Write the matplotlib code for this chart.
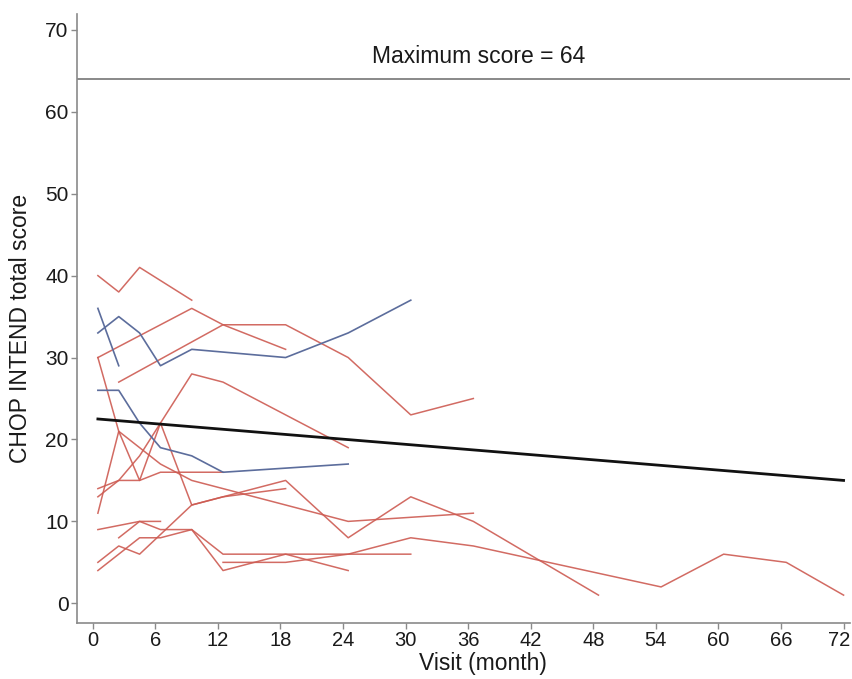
import numpy as np
import matplotlib.pyplot as plt
from matplotlib.transforms import ScaledTranslation

plt.rcParams['font.family'] = ['Liberation Sans', 'DejaVu Sans']

# Individual patient trajectories: visit month and CHOP INTEND total score
red_months = [
    [0.5, 2.5, 4.5, 9.5],
    [0.5, 9.5, 12.5, 18.5],
    [2.5, 12.5, 18.5, 24.5, 30.5, 36.5],
    [0.5, 2.5, 4.5, 6.5, 9.5, 12.5, 24.5],
    [0.5, 2.5, 4.5, 6.5, 9.5, 12.5, 24.5, 36.5],
    [0.5, 2.5, 4.5, 6.5, 9.5, 12.5, 18.5],
    [0.5, 2.5, 4.5, 6.5, 9.5, 12.5],
    [0.5, 2.5, 4.5, 9.5, 12.5, 18.5, 24.5, 30.5, 36.5, 48.5],
    [0.5, 4.5, 6.5, 9.5, 12.5, 18.5, 24.5],
    [12.5, 18.5, 24.5, 30.5, 36.5, 54.5, 60.5, 66.5, 72],
    [2.5, 4.5, 6.5, 9.5, 12.5, 18.5, 24.5, 30.5],
    [0.5, 4.5, 6.5],
]
red_scores = [
    [40, 38, 41, 37],
    [30, 36, 34, 31],
    [27, 34, 34, 30, 23, 25],
    [30, 21, 15, 22, 28, 27, 19],
    [11, 21, 19, 17, 15, 14, 10, 11],
    [14, 15, 18, 22, 12, 13, 14],
    [13, 15, 15, 16, 16, 16],
    [5, 7, 6, 12, 13, 15, 8, 13, 10, 1],
    [4, 8, 8, 9, 4, 6, 4],
    [5, 5, 6, 8, 7, 2, 6, 5, 1],
    [8, 10, 9, 9, 6, 6, 6, 6],
    [9, 10, 10],
]

blue_months = [
    [0.5, 2.5],
    [0.5, 2.5, 4.5, 6.5, 9.5, 18.5, 24.5, 30.5],
    [0.5, 2.5, 4.5, 6.5, 9.5, 12.5, 24.5],
]
blue_scores = [
    [36, 29],
    [33, 35, 33, 29, 31, 30, 33, 37],
    [26, 26, 22, 19, 18, 16, 17],
]

# Fitted trend across all visits
trend_months = [0.5, 72]
trend_scores = [22.5, 15.0]

max_score = 64
x_ticks = list(range(0, 73, 6))
y_ticks = list(range(0, 71, 10))

fig = plt.figure(figsize=(8.53, 6.79), dpi=100)
ax = fig.add_axes([0.0903, 0.0825, 0.906, 0.8965])

for m, s in zip(red_months, red_scores):
    ax.plot(m, s, color='#cd5b52', lw=1.1, alpha=0.9)
for m, s in zip(blue_months, blue_scores):
    ax.plot(m, s, color='#5c6d9c', lw=1.2)

ax.plot(trend_months, trend_scores, color='#111111', lw=2.0)

ax.axhline(max_score, color='#808080', lw=1.3)
ax.text(37, 66.8, 'Maximum score = 64', ha='center', va='center', fontsize=16.5, color='#1a1a1a')

ax.set_xlim(-1.5, 72.6)
ax.set_ylim(-2.4, 71.9)
ax.set_xticks(x_ticks)
ax.set_yticks(y_ticks)
ax.set_xlabel('Visit (month)', fontsize=16.5, color='#1a1a1a')
ax.set_ylabel('CHOP INTEND total score', fontsize=16.5, color='#1a1a1a')
ax.xaxis.set_label_coords(0.525, -0.048)
ax.yaxis.set_label_coords(-0.058, 0.484)

for side in ['top', 'right']:
    ax.spines[side].set_visible(False)
for side in ['left', 'bottom']:
    ax.spines[side].set_color('#8a8a8a')
    ax.spines[side].set_linewidth(1.2)
ax.tick_params(colors='#8a8a8a', labelcolor='#1a1a1a', labelsize=15, length=4, width=1, pad=2)
ax.tick_params(axis='x', labelsize=14.5)

# keep the last month label inside the figure
last = ax.get_xticklabels()[-1]
last.set_transform(last.get_transform() + ScaledTranslation(-4 / 100, 0, fig.dpi_scale_trans))

fig.savefig('out.png', dpi=100)
